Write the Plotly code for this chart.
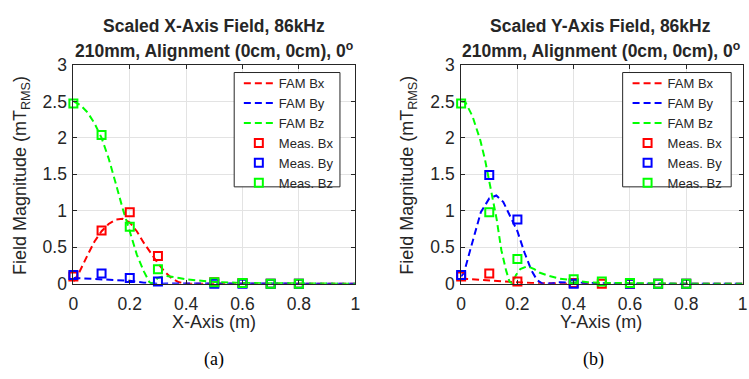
import plotly.graph_objects as go

# ---------------- data ----------------
meas_x_a = [0, 0.1, 0.2, 0.3, 0.5, 0.6, 0.7, 0.8]
meas_bx_a = [0.10, 0.73, 0.98, 0.38, 0.02, 0.01, 0.0, 0.0]
meas_by_a = [0.12, 0.14, 0.08, 0.03, 0.0, 0.0, 0.0, 0.0]
meas_bz_a = [2.47, 2.04, 0.78, 0.20, 0.02, 0.01, 0.0, 0.0]

fam_bx_a_x = [0, 0.02, 0.05, 0.075, 0.1, 0.125, 0.15, 0.175, 0.2, 0.225, 0.25, 0.275, 0.3, 0.325, 0.35, 0.375, 0.4, 0.5, 0.6, 0.8, 1.0]
fam_bx_a_y = [0.03, 0.15, 0.39, 0.58, 0.72, 0.82, 0.88, 0.89, 0.84, 0.72, 0.56, 0.42, 0.28, 0.16, 0.07, 0.02, 0.0, 0.0, 0.0, 0.0, 0.0]
fam_by_a_x = [0, 0.05, 0.1, 0.15, 0.2, 0.25, 0.28, 0.3, 0.35, 0.4, 0.5, 0.6, 0.8, 1.0]
fam_by_a_y = [0.08, 0.07, 0.065, 0.055, 0.04, 0.015, 0.0, 0.0, 0.005, 0.005, 0.0, 0.0, 0.0, 0.0]
fam_bz_a_x = [0, 0.025, 0.05, 0.075, 0.1, 0.125, 0.15, 0.175, 0.2, 0.225, 0.25, 0.27, 0.28, 0.29, 0.3, 0.325, 0.35, 0.375, 0.4, 0.45, 0.5, 0.6, 0.7, 0.8, 1.0]
fam_bz_a_y = [2.5, 2.45, 2.35, 2.2, 2.0, 1.72, 1.38, 1.03, 0.72, 0.40, 0.17, 0.02, 0.0, 0.04, 0.08, 0.11, 0.10, 0.08, 0.06, 0.04, 0.025, 0.01, 0.005, 0.0, 0.0]

meas_x_b = [0, 0.1, 0.2, 0.4, 0.5, 0.6, 0.7, 0.8]
meas_bx_b = [0.10, 0.14, 0.03, 0.01, 0.0, 0.0, 0.0, 0.0]
meas_by_b = [0.12, 1.49, 0.88, 0.0, -0.01, 0.0, 0.0, 0.0]
meas_bz_b = [2.47, 0.98, 0.34, 0.06, 0.03, 0.01, 0.0, 0.0]

fam_bx_b_x = [0, 0.05, 0.1, 0.15, 0.2, 0.25, 0.3, 0.4, 0.6, 0.8, 1.0]
fam_bx_b_y = [0.07, 0.055, 0.045, 0.03, 0.02, 0.01, 0.005, 0.0, 0.0, 0.0, 0.0]
fam_by_b_x = [0, 0.01, 0.035, 0.05, 0.07, 0.1, 0.125, 0.15, 0.175, 0.2, 0.225, 0.25, 0.27, 0.29, 0.32, 0.35, 0.4, 0.5, 0.6, 0.8, 1.0]
fam_by_b_y = [0.10, 0.15, 0.5, 0.72, 0.98, 1.17, 1.21, 1.12, 0.93, 0.72, 0.43, 0.18, 0.05, 0.0, 0.005, 0.02, 0.015, 0.005, 0.0, 0.0, 0.0]
fam_bz_b_x = [0, 0.015, 0.04, 0.068, 0.085, 0.1, 0.115, 0.126, 0.143, 0.16, 0.172, 0.182, 0.195, 0.21, 0.235, 0.26, 0.28, 0.31, 0.35, 0.4, 0.45, 0.5, 0.6, 0.7, 0.8, 1.0]
fam_bz_b_y = [2.5, 2.49, 2.3, 1.97, 1.7, 1.4, 1.1, 0.89, 0.46, 0.18, 0.03, 0.0, 0.12, 0.2, 0.24, 0.2, 0.15, 0.11, 0.07, 0.04, 0.02, 0.012, 0.005, 0.0, 0.0, 0.0]

RED, BLUE, GREEN = "#ff0000", "#0000ff", "#00ff00"
FONT = "Liberation Sans, Arial, sans-serif"
SERIF = "Liberation Serif, Times New Roman, serif"
DASH = "7px,4px"

fig = go.Figure()

def add_panel(xa, ya, legend, fams, meas_x, meas):
    names = ["Bx", "By", "Bz"]
    cols = [RED, BLUE, GREEN]
    for (fx, fy), n, c in zip(fams, names, cols):
        fig.add_trace(go.Scatter(x=fx, y=fy, mode="lines", name="FAM " + n,
                                 line=dict(color=c, width=2, dash=DASH),
                                 xaxis=xa, yaxis=ya, legend=legend, cliponaxis=True))
    for my, n, c in zip(meas, names, cols):
        fig.add_trace(go.Scatter(x=meas_x, y=my, mode="markers", name="Meas. " + n,
                                 marker=dict(symbol="square-open", size=8, color=c, line=dict(width=2, color=c)),
                                 xaxis=xa, yaxis=ya, legend=legend, cliponaxis=False))

add_panel("x", "y", "legend",
          [(fam_bx_a_x, fam_bx_a_y), (fam_by_a_x, fam_by_a_y), (fam_bz_a_x, fam_bz_a_y)],
          meas_x_a, [meas_bx_a, meas_by_a, meas_bz_a])
add_panel("x2", "y2", "legend2",
          [(fam_bx_b_x, fam_bx_b_y), (fam_by_b_x, fam_by_b_y), (fam_bz_b_x, fam_bz_b_y)],
          meas_x_b, [meas_bx_b, meas_by_b, meas_bz_b])

W, H = 749, 379
ytop, ybot = 58, 289
dom_y = [1 - ybot / H, 1 - ytop / H]
dom_x1 = [69.3 / W, 355 / W]
dom_x2 = [462.3 / W, 747.5 / W]

axis_common = dict(showline=True, linecolor="#262626", linewidth=1, mirror="ticks",
                   ticks="inside", ticklen=4, tickcolor="#262626",
                   showgrid=True, gridcolor="#e3e3e3", gridwidth=1, zeroline=False,
                   tickfont=dict(family=FONT, size=17.5, color="#262626"))

xticks = [0, 0.2, 0.4, 0.6, 0.8, 1]
xticktext = ["0", "0.2", "0.4", "0.6", "0.8", "1"]
yticks = [0, 0.5, 1, 1.5, 2, 2.5, 3]
yticktext = ["0", "0.5", "1", "1.5", "2", "2.5", "3"]

legend_common = dict(xanchor="left", yanchor="top", bgcolor="rgba(0,0,0,0)", borderwidth=0,
                     font=dict(family=FONT, size=13, color="#262626"),
                     tracegroupgap=0, itemwidth=30)

fig.update_layout(
    width=W, height=H, margin=dict(l=0, r=0, t=0, b=0),
    paper_bgcolor="white", plot_bgcolor="white",
    font=dict(family=FONT, color="#262626"),
    xaxis=dict(domain=dom_x1, range=[0, 1], tickvals=xticks, ticktext=xticktext, anchor="y",
               ticklabelstandoff=4, **axis_common),
    yaxis=dict(domain=dom_y, range=[0, 3], tickvals=yticks, ticktext=yticktext, anchor="x",
               ticklabelstandoff=2, **axis_common),
    xaxis2=dict(domain=dom_x2, range=[0, 1], tickvals=xticks, ticktext=xticktext, anchor="y2",
                ticklabelstandoff=4, **axis_common),
    yaxis2=dict(domain=dom_y, range=[0, 3], tickvals=yticks, ticktext=yticktext, anchor="x2",
                ticklabelstandoff=2, **axis_common),
    legend=dict(x=237 / W, y=1 - 61.5 / H, **legend_common),
    legend2=dict(x=631 / W, y=1 - 61.5 / H, **legend_common),
    showlegend=True,
)

# legend frames (opaque, bordered like the reference)
for x0, x1 in [(232.3, 339.5), (626, 736)]:
    fig.add_shape(type="rect", xref="paper", yref="paper",
                  x0=x0 / W, x1=x1 / W, y0=1 - 186.7 / H, y1=1 - 66 / H,
                  fillcolor="white", line=dict(color="#262626", width=1), layer="above")

ann = []
def txt(x, y, t, size=18, bold=False, angle=0, family=FONT, color="#262626"):
    if bold:
        t = "<b>" + t + "</b>"
    ann.append(dict(x=x / W, y=1 - y / H, xref="paper", yref="paper", text=t, showarrow=False,
                    xanchor="center", yanchor="middle", textangle=angle,
                    font=dict(family=family, size=size, color=color)))

txt(212, 17, "Scaled X-Axis Field, 86kHz", size=17.5, bold=True)
txt(212, 42, "210mm, Alignment (0cm, 0cm), 0<sup>o</sup>", size=17.5, bold=True)
txt(604, 17, "Scaled Y-Axis Field, 86kHz", size=17.5, bold=True)
txt(604, 42, "210mm, Alignment (0cm, 0cm), 0<sup>o</sup>", size=17.5, bold=True)
txt(212, 329, "X-Axis (m)")
txt(604, 329, "Y-Axis (m)")
txt(17, 174.5, "Field Magnitude (mT<sub>RMS</sub>)", angle=-90)
txt(409, 174.5, "Field Magnitude (mT<sub>RMS</sub>)", angle=-90)
txt(212, 369, "(a)", size=18, family=SERIF, color="black")
txt(596, 369, "(b)", size=18, family=SERIF, color="black")
fig.update_layout(annotations=ann)

fig.write_html("out.html")
